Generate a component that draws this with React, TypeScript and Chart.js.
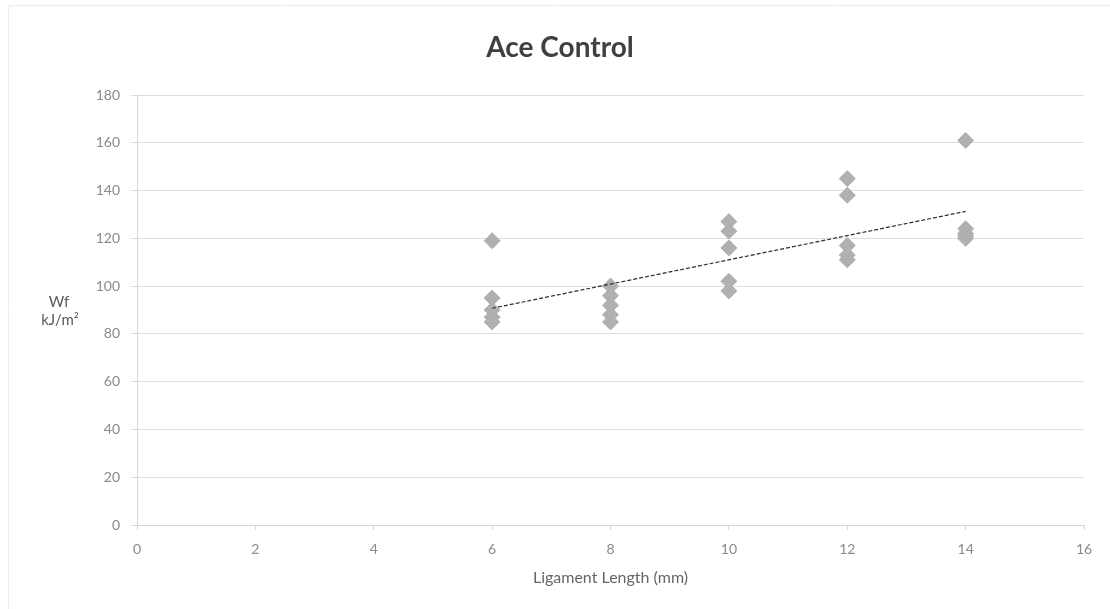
import React, { useEffect, useRef } from "react";
import { Chart, registerables } from "chart.js";

Chart.register(...registerables);

const chartTitle = "Ace Control";
const xAxisTitle = "Ligament Length (mm)";
const yAxisTitleLines = ["Wf", "kJ/m²"];

const ligamentLengths = [
  6, 6, 6, 6, 6,
  8, 8, 8, 8, 8,
  10, 10, 10, 10, 10,
  12, 12, 12, 12, 12,
  14, 14, 14, 14, 14,
];
const wfValues = [
  119, 95, 90, 87, 85,
  100, 96, 92, 88, 85,
  127, 123, 116, 102, 98,
  145, 138, 117, 113, 111,
  161, 124, 122, 121, 120,
];

const xMin = 0;
const xMax = 16;
const xStep = 2;
const yMin = 0;
const yMax = 180;
const yStep = 20;

function linearFit(xs: number[], ys: number[]) {
  const n = xs.length;
  const mx = xs.reduce((a, b) => a + b, 0) / n;
  const my = ys.reduce((a, b) => a + b, 0) / n;
  let sxy = 0;
  let sxx = 0;
  for (let i = 0; i < n; i++) {
    sxy += (xs[i] - mx) * (ys[i] - my);
    sxx += (xs[i] - mx) * (xs[i] - mx);
  }
  const slope = sxy / sxx;
  return { slope, intercept: my - slope * mx };
}

const FONT = "Lato, 'Open Sans', sans-serif";

export default function App() {
  const canvasRef = useRef<HTMLCanvasElement | null>(null);

  useEffect(() => {
    if (!canvasRef.current) return;
    const points = ligamentLengths.map((x, i) => ({ x, y: wfValues[i] }));
    const fit = linearFit(ligamentLengths, wfValues);
    const lo = Math.min(...ligamentLengths);
    const hi = Math.max(...ligamentLengths);
    const trend = [
      { x: lo, y: fit.intercept + fit.slope * lo },
      { x: hi, y: fit.intercept + fit.slope * hi },
    ];

    const textPlugin = {
      id: "texts",
      afterDraw(chart: any) {
        const ctx = chart.ctx as CanvasRenderingContext2D;
        const area = chart.chartArea;
        ctx.save();
        // frame
        ctx.strokeStyle = "#ececec";
        ctx.lineWidth = 1;
        ctx.beginPath();
        ctx.moveTo(8.5, 609);
        ctx.lineTo(8.5, 5.5);
        ctx.lineTo(1110, 5.5);
        ctx.stroke();
        // title
        ctx.fillStyle = "#404040";
        ctx.textAlign = "center";
        ctx.textBaseline = "middle";
        ctx.font = `bold 28px ${FONT}`;
        ctx.fillText(chartTitle, 560, 48);
        // y title
        ctx.fillStyle = "#595959";
        ctx.font = `15px ${FONT}`;
        ctx.fillText(yAxisTitleLines[0], 59, 302);
        ctx.fillText(yAxisTitleLines[1], 60, 320);
        // x title
        ctx.fillStyle = "#666666";
        ctx.font = `16px ${FONT}`;
        ctx.fillText(xAxisTitle, (area.left + area.right) / 2, 578);
        ctx.restore();
      },
    };

    const chart = new Chart(canvasRef.current, {
      type: "scatter",
      data: {
        datasets: [
          {
            type: "line",
            label: "Linear trend",
            data: trend,
            borderColor: "#2b2b2b",
            borderWidth: 1.2,
            borderDash: [4, 2],
            pointRadius: 0,
            fill: false,
            order: 0,
          } as any,
          {
            label: "Wf",
            data: points,
            pointStyle: "rectRot",
            pointRadius: 8,
            pointBackgroundColor: "#b0b0b0",
            pointBorderColor: "#b0b0b0",
            pointBorderWidth: 1,
            order: 1,
          },
        ],
      },
      options: {
        responsive: false,
        animation: false,
        layout: { padding: { top: 95, right: 26, left: 0, bottom: 0 } },
        plugins: {
          legend: { display: false },
          title: { display: false },
          tooltip: { enabled: false },
        },
        scales: {
          x: {
            type: "linear",
            min: xMin,
            max: xMax,
            ticks: {
              stepSize: xStep,
              color: "#8a8a8a",
              font: { family: FONT, size: 14 },
              padding: 11,
            },
            grid: {
              drawOnChartArea: false,
              drawTicks: true,
              tickLength: 5,
              color: "#d4d4d4",
            },
            border: { color: "#d4d4d4", width: 1 },
            afterFit: (scale: any) => {
              scale.height = 84;
            },
          },
          y: {
            min: yMin,
            max: yMax,
            ticks: {
              stepSize: yStep,
              color: "#8a8a8a",
              font: { family: FONT, size: 14 },
              padding: 11,
            },
            grid: {
              color: "#dedede",
              tickLength: 6,
            },
            border: { color: "#d4d4d4", width: 1 },
            afterFit: (scale: any) => {
              scale.width = 137;
            },
          },
        },
      },
      plugins: [textPlugin],
    });
    return () => chart.destroy();
  }, []);

  return (
    <div style={{ position: "fixed", left: 0, top: 0, width: 1110, height: 609, background: "#fff" }}>
      <canvas ref={canvasRef} width={1110} height={609} />
    </div>
  );
}
